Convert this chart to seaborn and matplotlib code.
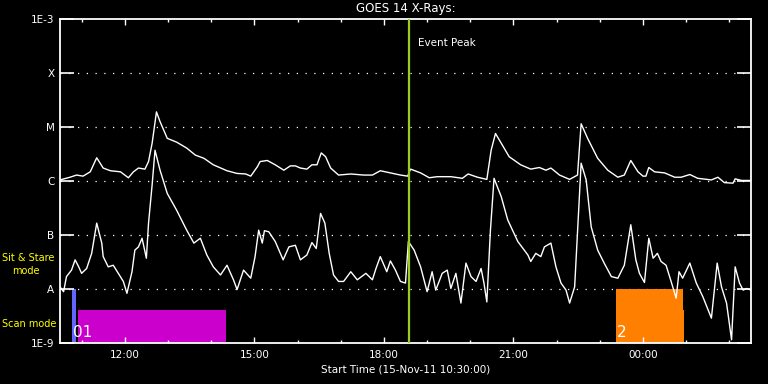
import numpy as np
import pandas as pd
import matplotlib
matplotlib.use("Agg")
import matplotlib.pyplot as plt
import matplotlib.dates as mdates
import matplotlib.transforms as mtransforms
import seaborn as sns

# ---------------- data ----------------
start = pd.Timestamp("2011-11-15 10:30:00")
end = pd.Timestamp("2011-11-16 02:30:00")

# long channel (1-8 A): minutes after start, log10 flux
long_min = [0, 14, 23, 32, 42, 51, 60, 70, 84, 95, 102, 109, 118, 123, 128, 134, 139, 149, 162, 176,
            188, 200, 213, 232, 246, 258, 265, 274, 278, 288, 299, 311, 320, 327, 334, 343, 350, 357, 363, 369,
            376, 387, 404, 422, 434, 445, 459, 473, 483, 487, 501, 513, 524, 543, 559, 567, 580, 593, 599, 605,
            613, 624, 640, 654, 666, 675, 682, 694, 708, 719, 724, 733, 747, 761, 775, 784, 793, 803, 810, 814,
            818, 826, 840, 854, 863, 875, 886, 905, 914, 923, 935, 938, 947, 960]
long_log = [-5.98, -5.93, -5.89, -5.91, -5.83, -5.57, -5.76, -5.81, -5.83, -5.94, -5.83, -5.76, -5.78, -5.64, -5.30,
            -4.72, -4.90, -5.21, -5.28, -5.39, -5.52, -5.58, -5.70, -5.81, -5.86, -5.87, -5.91, -5.74, -5.64, -5.62,
            -5.70, -5.80, -5.72, -5.72, -5.76, -5.78, -5.70, -5.70, -5.48, -5.55, -5.76, -5.89, -5.87, -5.89, -5.89,
            -5.81, -5.85, -5.89, -5.91, -5.78, -5.85, -5.94, -5.92, -5.92, -5.95, -5.87, -5.93, -5.97, -5.43, -5.12,
            -5.30, -5.55, -5.70, -5.78, -5.75, -5.80, -5.76, -5.89, -5.97, -5.89, -4.94, -5.21, -5.58, -5.80, -5.93,
            -5.89, -5.62, -5.83, -5.91, -5.91, -5.75, -5.83, -5.85, -5.93, -5.93, -5.88, -5.95, -5.98, -5.93, -6.03,
            -6.04, -5.96, -5.99, -5.99]

# short channel (0.5-4 A)
short_min = [0, 5, 9, 16, 21, 26, 30, 37, 44, 51, 58, 60, 67, 74, 81, 88, 93, 100, 104, 109,
             114, 120, 123, 128, 132, 139, 149, 162, 176, 186, 195, 204, 213, 223, 232, 241, 246, 255, 265, 271,
             276, 281, 284, 290, 299, 310, 318, 327, 334, 343, 350, 356, 362, 368, 374, 380, 387, 394, 404, 413,
             425, 434, 439, 445, 454, 459, 466, 473, 480, 484, 492, 501, 510, 517, 522, 531, 538, 543, 550, 557,
             564, 571, 578, 585, 589, 593, 598, 603, 613, 622, 636, 650, 654, 661, 668, 673, 682, 689, 696, 703,
             708, 715, 724, 731, 738, 747, 756, 766, 775, 784, 793, 800, 805, 812, 818, 824, 830, 835, 842, 849,
             856, 860, 865, 875, 884, 893, 905, 913, 919, 926, 933, 938, 944, 949, 954, 960]
short_log = [-7.96, -8.05, -7.77, -7.65, -7.46, -7.59, -7.71, -7.62, -7.34, -6.78,
             -7.15, -7.40, -7.59, -7.56, -7.71, -7.86, -8.08, -7.68, -7.28, -7.22,
             -7.06, -7.43, -6.78, -6.07, -5.43, -5.80, -6.23, -6.54, -6.91, -7.15,
             -7.06, -7.37, -7.59, -7.74, -7.56, -7.83, -8.01, -7.65, -7.80, -7.40,
             -6.91, -7.15, -6.92, -6.94, -7.12, -7.46, -7.22, -7.19, -7.46, -7.37,
             -7.14, -7.25, -6.60, -6.78, -7.34, -7.74, -7.86, -7.86, -7.68, -7.83,
             -7.71, -7.83, -7.62, -7.40, -7.68, -7.48, -7.65, -7.86, -7.89, -7.12,
             -7.28, -7.59, -8.05, -7.68, -8.02, -7.71, -7.65, -7.99, -7.71, -8.26,
             -7.52, -7.77, -7.86, -7.62, -7.89, -8.24, -6.91, -5.95, -6.29, -6.72,
             -7.12, -7.37, -7.49, -7.34, -7.40, -7.22, -7.15, -7.59, -7.89, -8.02,
             -8.26, -7.96, -5.67, -5.98, -6.85, -7.28, -7.52, -7.77, -7.80, -7.56,
             -6.81, -7.46, -7.71, -7.88, -7.06, -7.43, -7.34, -7.49, -7.56, -7.86,
             -8.17, -7.68, -7.80, -7.52, -7.89, -8.14, -8.54, -7.52, -7.96, -8.26,
             -8.94, -7.59, -7.89, -8.02, -7.99, -8.02]

event_peak = "2011-11-15 18:34:30"

# observation blocks: start, end, top flux, colour, label
obs_start = ["2011-11-15 10:47", "2011-11-15 10:55", "2011-11-15 23:23", "2011-11-15 23:23"]
obs_end = ["2011-11-15 10:52", "2011-11-15 14:21", "2011-11-16 00:55", "2011-11-16 00:57"]
obs_top = [1e-8, 4.1e-9, 1e-8, 4.1e-9]
obs_color = ["#6464ff", "#cc00cc", "#ff8000", "#ff8000"]
obs_labels = ["01", "2"]
obs_label_start = ["2011-11-15 10:48", "2011-11-15 23:24"]

ytick_vals = [1e-9, 1e-8, 1e-7, 1e-6, 1e-5, 1e-4, 1e-3]
ytick_labels = ["1E-9", "A", "B", "C", "M", "X", "1E-3"]
grid_vals = [1e-8, 1e-7, 1e-6, 1e-5, 1e-4]

# ---------------- figure ----------------
plt.rcParams["font.family"] = ["DejaVu Sans"]
fig = plt.figure(figsize=(7.68, 3.84), dpi=100, facecolor="black")
ax = fig.add_axes([60 / 768, 41 / 384, 691 / 768, 324 / 384], facecolor="black")

df_long = pd.DataFrame({"time": start + pd.to_timedelta(long_min, unit="min"),
                        "flux": 10 ** np.array(long_log)})
df_short = pd.DataFrame({"time": start + pd.to_timedelta(short_min, unit="min"),
                         "flux": 10 ** np.array(short_log)})

# observation blocks
for s, e, top, c in zip(obs_start, obs_end, obs_top, obs_color):
    s_num = mdates.date2num(pd.Timestamp(s))
    e_num = mdates.date2num(pd.Timestamp(e))
    ax.bar(s_num, top - 1e-9, width=e_num - s_num, bottom=1e-9, align="edge",
           color=c, edgecolor="none", zorder=1)

# grid lines
for g in grid_vals:
    ax.axhline(g, color="white", lw=0.9, ls=(0, (1, 6)), zorder=0.5)

sns.lineplot(data=df_long, x="time", y="flux", color="white", lw=1.0, ax=ax,
             estimator=None, sort=False, zorder=3)
sns.lineplot(data=df_short, x="time", y="flux", color="white", lw=1.0, ax=ax,
             estimator=None, sort=False, zorder=3)

ax.axvline(mdates.date2num(pd.Timestamp(event_peak)), color="#9acd1e", lw=1.6, zorder=4)

ax.set_yscale("log")
ax.set_ylim(1e-9, 1e-3)
ax.set_xlim(mdates.date2num(start), mdates.date2num(end))
ax.set_yticks(ytick_vals)
ax.set_yticklabels(ytick_labels)
ax.yaxis.set_minor_locator(matplotlib.ticker.NullLocator())

ax.xaxis.set_major_locator(mdates.HourLocator(byhour=[0, 3, 6, 9, 12, 15, 18, 21]))
ax.xaxis.set_minor_locator(mdates.HourLocator())
ax.xaxis.set_major_formatter(mdates.DateFormatter("%H:%M"))

for sp in ax.spines.values():
    sp.set_color("white")
    sp.set_linewidth(1.3)

ax.tick_params(axis="x", which="major", direction="in", length=4.5, width=1, colors="white",
               top=True, labelsize=7.5, pad=5)
ax.tick_params(axis="x", which="minor", direction="in", length=2.3, width=1, colors="white", top=True)
ax.tick_params(axis="y", which="major", direction="in", length=10, width=1.2, colors="white",
               right=True, labelsize=7.5, pad=4)

ax.set_xlabel("Start Time (15-Nov-11 10:30:00)", color="white", fontsize=7.5, labelpad=3)
ax.set_ylabel("")
ax.set_title("GOES 14 X-Rays:", color="white", fontsize=8.5, pad=5)

ax.text(0.518, 0.926, "Event Peak", transform=ax.transAxes, color="white",
        fontsize=7.5, ha="left", va="center")

# block labels
trans = mtransforms.blended_transform_factory(ax.transData, ax.transAxes)
for lab, ls in zip(obs_labels, obs_label_start):
    ax.text(mdates.date2num(pd.Timestamp(ls)), 0.01, lab, transform=trans, color="white",
            fontsize=11, ha="left", va="bottom", zorder=5)

fig.text(2 / 768, 1 - 258 / 384, "Sit & Stare", color="yellow", fontsize=7, ha="left", va="center")
fig.text(12 / 768, 1 - 271 / 384, "mode", color="yellow", fontsize=7, ha="left", va="center")
fig.text(2 / 768, 1 - 324 / 384, "Scan mode", color="yellow", fontsize=7, ha="left", va="center")

fig.savefig("out.png", dpi=100, facecolor="black")
